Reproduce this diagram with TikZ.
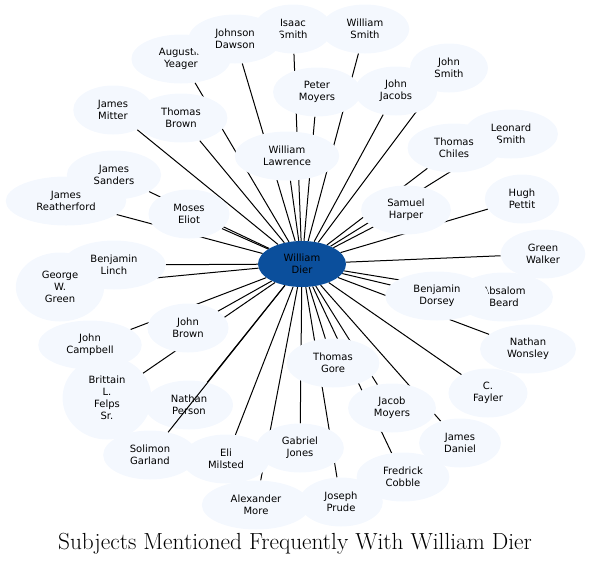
\documentclass[tikz,border=0pt]{standalone}
\usepackage{fontspec}
\newfontfamily\nodefont{DejaVu Sans}
\usetikzlibrary{shapes.geometric}
\pgfdeclarelayer{background}
\pgfsetlayers{background,main}
\definecolor{nodefill}{HTML}{F4F8FE}
\definecolor{hubfill}{HTML}{0B4F9C}
\tikzset{
  person/.style={ellipse, fill=nodefill, draw=none, inner xsep=13pt, inner ysep=2pt,
    align=center, font=\nodefont\fontsize{10}{12}\selectfont, minimum height=49pt},
  three/.style={minimum height=69pt},
  four/.style={minimum height=83pt},
  hub/.style={person, fill=hubfill, inner xsep=8pt, minimum width=88pt, minimum height=46pt},
  link/.style={line width=1pt, black},
}
\begin{document}
\begin{tikzpicture}[x=1pt,y=-1pt]
\useasboundingbox (0,0) rectangle (590,566);
\node[person] (isaac) at (293,29) {Isaac\\Smith};
\node[person] (augustin) at (181,59) {Augustin\\Yeager};
\node[person] (johnson) at (235,39) {Johnson\\Dawson};
\node[person] (wsmith) at (365,29) {William\\Smith};
\node[person] (jsmith) at (449,68) {John\\Smith};
\node[person] (peter) at (317,92) {Peter\\Moyers};
\node[person] (jacobs) at (396,91) {John\\Jacobs};
\node[person] (mitter) at (113,110) {James\\Mitter};
\node[person] (tbrown) at (181,118) {Thomas\\Brown};
\node[person] (leonard) at (511,134) {Leonard\\Smith};
\node[person] (chiles) at (454,148) {Thomas\\Chiles};
\node[person] (lawrence) at (287,156) {William\\Lawrence};
\node[person] (reatherford) at (66,201) {James\\Reatherford};
\node[person] (sanders) at (114,175) {James\\Sanders};
\node[person] (pettit) at (522,199) {Hugh\\Pettit};
\node[person] (eliot) at (189,214) {Moses\\Eliot};
\node[person] (harper) at (406,210) {Samuel\\Harper};
\node[person] (walker) at (543,254) {Green\\Walker};
\node[person] (linch) at (114,265) {Benjamin\\Linch};
\node[person,three] (ggreen) at (60,287) {George\\W.\\Green};
\node[person] (absalom) at (504,297) {Absalom\\Beard};
\node[person] (dorsey) at (437,296) {Benjamin\\Dorsey};
\node[person] (wonsley) at (528,349) {Nathan\\Wonsley};
\node[person] (campbell) at (90,345) {John\\Campbell};
\node[person] (jbrown) at (188,328) {John\\Brown};
\node[person] (gore) at (333,363) {Thomas\\Gore};
\node[person,four] (brittain) at (107,398) {Brittain\\L.\\Felps\\Sr.};
\node[person] (person) at (189,405) {Nathan\\Person};
\node[person] (fayler) at (488,393) {C.\\Fayler};
\node[person] (jmoyers) at (392,408) {Jacob\\Moyers};
\node[person] (daniel) at (460,443) {James\\Daniel};
\node[person] (garland) at (150,455) {Solimon\\Garland};
\node[person] (milsted) at (226,459) {Eli\\Milsted};
\node[person] (gjones) at (300,448) {Gabriel\\Jones};
\node[person] (cobble) at (403,477) {Fredrick\\Cobble};
\node[person] (more) at (256,505) {Alexander\\More};
\node[person] (prude) at (341,502) {Joseph\\Prude};
\node[hub] (dier) at (302,264) {William\\Dier};
\begin{pgfonlayer}{background}
\foreach \t in {isaac,augustin,johnson,wsmith,jsmith,peter,jacobs,mitter,tbrown,
  leonard,chiles,lawrence,sanders,reatherford,pettit,eliot,harper,walker,linch,
  ggreen,absalom,dorsey,wonsley,campbell,jbrown,gore,brittain,person,fayler,
  jmoyers,daniel,milsted,gjones,cobble,more,prude}
  \draw[link] (dier) -- (\t);
\end{pgfonlayer}
\draw[link] (dier) -- (garland);
\node[font=\fontsize{23.3}{27}\selectfont, anchor=base] (title) at (295,549)
  {Subjects Mentioned Frequently With William Dier};
\end{tikzpicture}
\end{document}
